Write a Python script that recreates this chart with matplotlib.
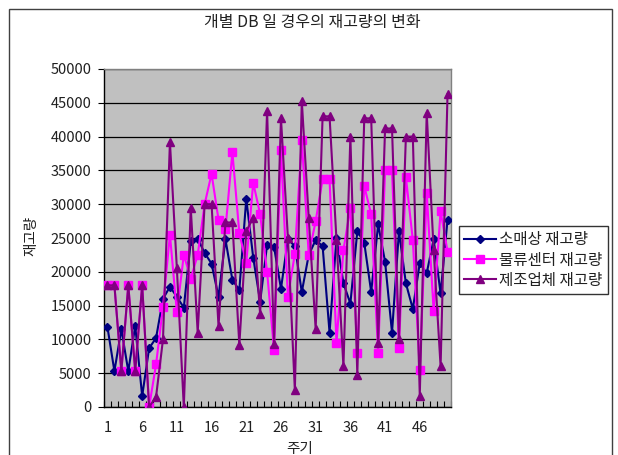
import matplotlib
matplotlib.use("Agg")
import matplotlib.pyplot as plt
from matplotlib.patches import Rectangle
from matplotlib.ticker import FixedLocator, MultipleLocator

plt.rcParams['font.family'] = ['Noto Sans CJK KR', 'DejaVu Sans']

title = "개별 DB 일 경우의 재고량의 변화"
x_title = "주기"
y_title = "재고량"
series_names = ["소매상 재고량", "물류센터 재고량", "제조업체 재고량"]

periods = list(range(1, 51))

retailer = [11800, 5300, 11500, 5300, 12000, 1600, 8700, 10200, 16000, 17800,
            16300, 14700, 24500, 24900, 22800, 21200, 16300, 24800, 18800, 17300,
            30800, 22100, 15600, 24000, 23700, 17500, 24800, 23800, 17000, 22500,
            24700, 23800, 11000, 25000, 18300, 15300, 26000, 24300, 17000, 27000,
            21500, 11000, 26000, 18300, 14500, 21300, 19800, 24800, 16800, 27700]

distribution = [18000, 18000, 5300, 18000, 5300, 18000, 0, 6300, 14800, 25500,
                14000, 22500, 19000, 22500, 30000, 34500, 27700, 26300, 37700, 25700,
                21300, 33200, 28500, 20000, 8500, 38000, 16200, 22700, 39500, 22500,
                27500, 33700, 33700, 9500, 23200, 29500, 8000, 32700, 28500, 8000,
                35000, 35000, 8700, 34000, 24700, 5500, 31700, 14200, 29000, 23000]

manufacturer = [18000, 18000, 5300, 18000, 5300, 18000, 0, 1500, 10000, 39200,
                20500, 0, 29500, 11000, 30000, 30000, 12000, 27300, 27300, 9200,
                26000, 28000, 13700, 43800, 9300, 42700, 25000, 2500, 45300, 28000,
                11500, 43000, 43000, 24700, 6000, 40000, 4800, 42700, 42700, 9500,
                41200, 41200, 10000, 40000, 40000, 1700, 43500, 23200, 6000, 46300]

y_ticks = list(range(0, 50001, 5000))
x_tick_labels = [1, 6, 11, 16, 21, 26, 31, 36, 41, 46]

W, H = 618, 455
fig = plt.figure(figsize=(W / 100, H / 100), dpi=100)
fig.patch.set_facecolor("white")

# chart-area frame
fig.patches.append(Rectangle((9 / W, -0.05), (612 - 9) / W, 1.05 - 9 / H,
                             transform=fig.transFigure, fill=False,
                             edgecolor="#404040", linewidth=1.0))

ax = fig.add_axes([104 / W, 1 - 407 / H, (451 - 104) / W, (407 - 69) / H])
ax.set_facecolor("#C0C0C0")

ax.plot(periods, retailer, color="#000080", marker="D", markersize=4.5,
        linewidth=1.5, label=series_names[0], zorder=3)
ax.plot(periods, distribution, color="#FF00FF", marker="s", markersize=5.5,
        linewidth=1.5, label=series_names[1], zorder=4)
ax.plot(periods, manufacturer, color="#800080", marker="^", markersize=5.5,
        linewidth=1.5, label=series_names[2], zorder=5)

ax.set_xlim(0.5, 50.5)
ax.set_ylim(0, 50000)

ax.yaxis.set_major_locator(FixedLocator(y_ticks))
ax.set_yticklabels([str(v) for v in y_ticks])
ax.grid(axis="y", color="black", linewidth=0.9, zorder=1)
ax.set_axisbelow(True)

ax.xaxis.set_major_locator(FixedLocator(x_tick_labels))
ax.set_xticklabels([str(v) for v in x_tick_labels])
ax.xaxis.set_minor_locator(MultipleLocator(1, offset=0.5))
ax.tick_params(axis="x", which="major", length=0, pad=10, labelsize=10.5,
               labelcolor="#202020")
ax.tick_params(axis="x", which="minor", direction="in", length=4,
               width=0.8, color="black")
ax.tick_params(axis="y", which="major", direction="out", length=4,
               width=0.8, pad=5, labelsize=10.5, labelcolor="#202020")

for side in ("left", "bottom"):
    ax.spines[side].set_color("black")
    ax.spines[side].set_linewidth(1.0)
for side in ("top", "right"):
    ax.spines[side].set_color("#808080")
    ax.spines[side].set_linewidth(1.0)

fig.text(312 / W, 1 - 23 / H, title, ha="center", va="center",
         fontsize=11.5, color="#202020")
fig.text(31 / W, 1 - 236 / H, y_title, ha="center", va="center",
         rotation=90, fontsize=10.5, color="#202020")
fig.text(300 / W, 1 - 449 / H, x_title, ha="center", va="center",
         fontsize=10.5, color="#202020")

leg = fig.legend(loc="center left", bbox_to_anchor=(459 / W, 1 - 260 / H),
                 fontsize=11.2, frameon=True, fancybox=False, handlelength=2.0,
                 handletextpad=0.25, borderpad=0.35, labelspacing=0.22,
                 borderaxespad=0)
leg.get_frame().set_edgecolor("black")
leg.get_frame().set_linewidth(1.0)
for t in leg.get_texts():
    t.set_color("#202020")

fig.savefig("out.png", dpi=100)
